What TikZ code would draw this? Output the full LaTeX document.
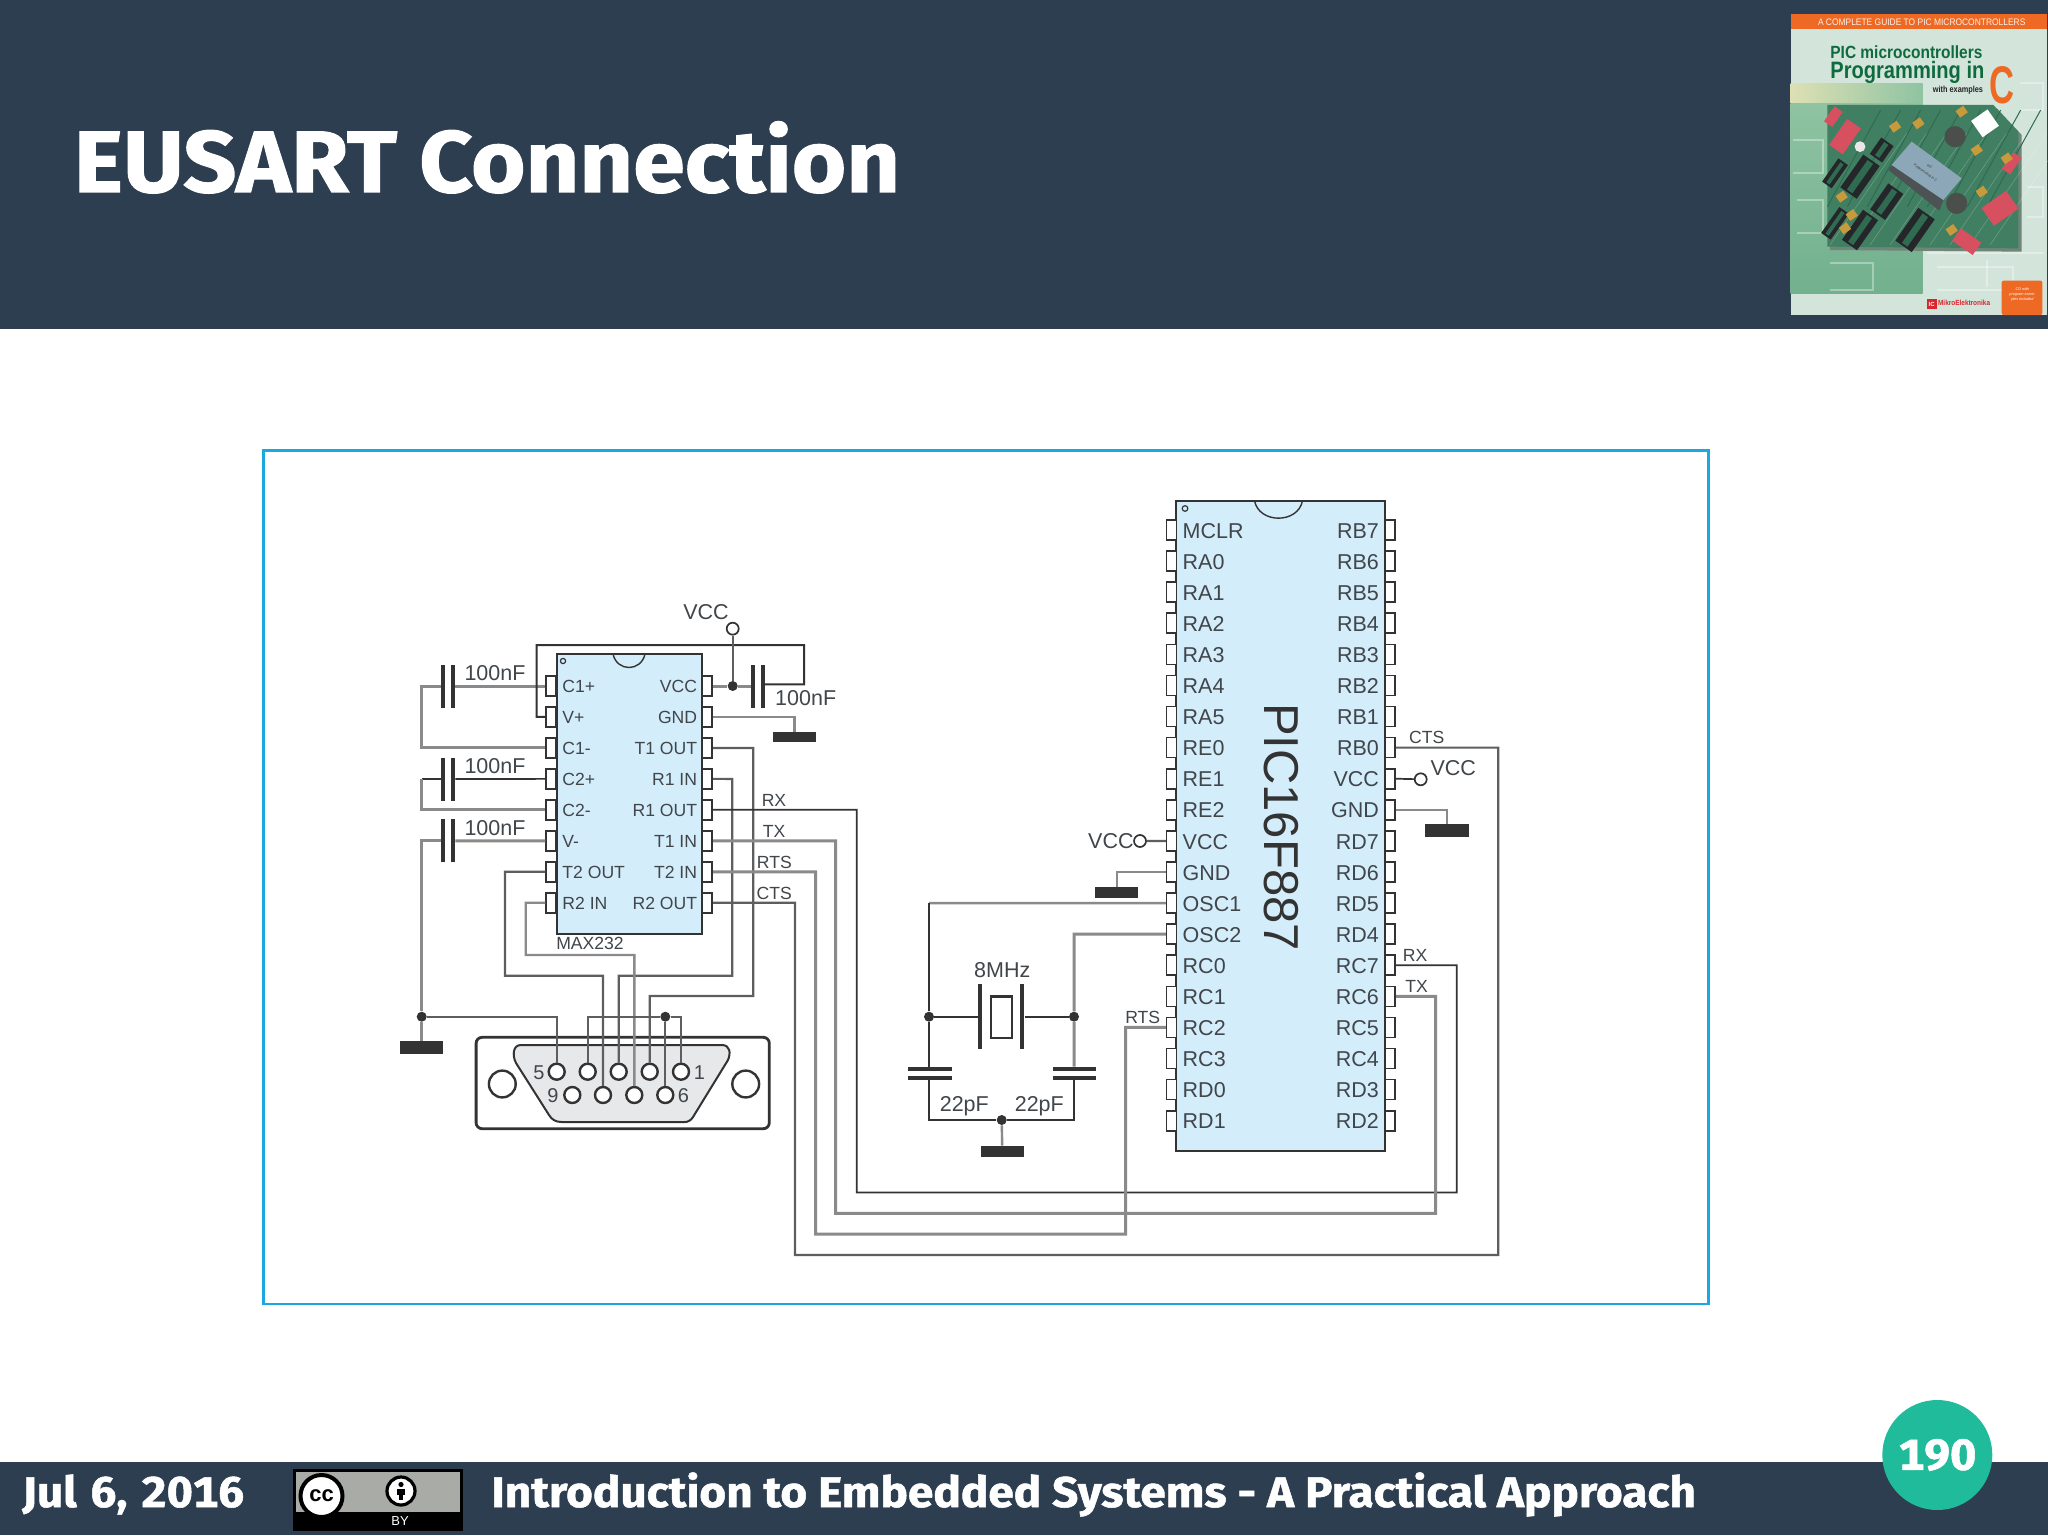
\documentclass[tikz,border=0pt]{standalone}
\usepackage{fontspec}
\usepackage{graphicx}
\setmainfont{Fira Sans}[FakeStretch=1.07,Numbers=Monospaced,BoldFeatures={FakeBold=1.2}]
\newfontfamily\arialf{Liberation Sans}
\usetikzlibrary{shapes.geometric}
\definecolor{hdr}{HTML}{2C3E50}
\definecolor{frm}{HTML}{1BA8E0}
\definecolor{teal1}{HTML}{1FBB9A}
\definecolor{icfill}{HTML}{D4EDFB}
\definecolor{ink}{HTML}{333333}
\definecolor{txt}{HTML}{41464B}
\definecolor{gw}{HTML}{8A8A8A}
\definecolor{mw}{HTML}{5E5E5E}
\definecolor{bko}{HTML}{EE6A24}
\definecolor{bkg}{HTML}{0E6B3E}
\definecolor{pcb}{HTML}{417F62}
\definecolor{pcbd}{HTML}{2F6B50}
\definecolor{ccg}{HTML}{A9ACA6}
\definecolor{bkbg}{HTML}{D3E4DB}
\definecolor{bky}{HTML}{DDE0B4}
\definecolor{bkma}{HTML}{8FC3A2}
\definecolor{bkmb}{HTML}{72B08E}
\definecolor{bksh}{HTML}{6F8578}
\definecolor{bkic}{HTML}{24262A}
\definecolor{bkred}{HTML}{D6505F}
\definecolor{bkyel}{HTML}{C99A3C}
\definecolor{bkw}{HTML}{E8E8E8}
\definecolor{bkknob}{HTML}{4A4F4C}
\definecolor{bklcda}{HTML}{4D5254}
\definecolor{bklcdb}{HTML}{8CA8B8}
\definecolor{dbfill}{HTML}{E7E8E9}
\definecolor{mered}{HTML}{D8262C}
\definecolor{dkt}{HTML}{242424}
\tikzset{
  x=0.5pt,y=-0.5pt,
  lab/.style={font=\arialf\fontsize{8.8}{10}\selectfont,text=txt,inner sep=0pt,text height=6.3pt,text depth=0pt},
  big/.style={font=\arialf\fontsize{10.75}{12}\selectfont,text=txt,inner sep=0pt,text height=7.7pt,text depth=0pt},
  icbody/.style={rectangle,draw=ink,fill=icfill,line width=1pt,inner sep=0pt},
  pinbox/.style={rectangle,draw=ink,fill=white,line width=0.85pt,inner sep=0pt,minimum width=5pt,minimum height=10pt},
  gwire/.style={draw=gw,line width=1.5pt},
  mwire/.style={draw=mw,line width=1.1pt},
  dwire/.style={draw=ink,line width=0.85pt},
  vplate/.style={rectangle,fill=ink,inner sep=0pt,minimum width=2pt,minimum height=21.5pt},
  hplate/.style={rectangle,fill=ink,inner sep=0pt,minimum width=21.7pt,minimum height=2pt},
  xplate/.style={rectangle,fill=ink,inner sep=0pt,minimum width=2pt,minimum height=32.5pt},
  gndbar/.style={rectangle,fill=ink,inner sep=0pt,minimum width=21.7pt,minimum height=5.2pt},
  jdot/.style={circle,fill=ink,inner sep=0pt,minimum size=5pt},
  term/.style={circle,draw=ink,fill=white,line width=0.85pt,inner sep=0pt,minimum size=6pt},
  dbpin/.style={circle,draw=ink,fill=white,line width=1.2pt,inner sep=0pt,minimum size=8pt},
  dbhole/.style={circle,draw=ink,fill=white,line width=1.2pt,inner sep=0pt,minimum size=13.4pt},
  foot/.style={font=\fontsize{21.45}{24}\selectfont\bfseries,text=white,inner sep=0pt,anchor=base west},
}
\newcommand{\fitbox}[3]{\resizebox{#1pt}{#2pt}{#3}}
\begin{document}
\begin{tikzpicture}
\useasboundingbox (0,0) rectangle (2048,1535);
\fill[white] (0,0) rectangle (2048,1535);
% header and footer
\fill[hdr] (0,0) rectangle (2048,329);
\fill[hdr] (0,1462) rectangle (2048,1535);
\node[font=\fontsize{43.6}{50}\selectfont\bfseries,text=white,inner sep=0pt,anchor=base west] (title) at (73.5,192) {EUSART Connection};
\node[foot] (date) at (22,1507) {Jul\hspace{1.5pt} 6,\hspace{1.5pt} 2016};
\node[foot] (course) at (491,1507) {Introduction to Embedded Systems - A Practical Approach};
\node[circle,fill=teal1,minimum size=55pt,inner sep=0pt,text=white,font=\fontsize{21.6}{24}\selectfont\bfseries] (pageno) at (1937.3,1455) {190};
% CC badge
\fill[black] (292.5,1469) rectangle (462.5,1531);
\fill[ccg] (296,1472) rectangle (460,1512);
\node[circle,draw=black,fill=white,line width=2pt,minimum size=21pt,inner sep=0pt,font=\arialf\fontsize{11}{12}\selectfont\bfseries,text=black] (ccicon) at (321.5,1496) {cc};
\node[circle,draw=black,fill=white,line width=1.6pt,minimum size=14pt,inner sep=0pt] (byicon) at (401,1491) {};
\fill[black] (401,1484.5) circle[radius=1.3pt];
\fill[black] (397,1488.5) rectangle (405,1495);
\fill[black] (398.7,1495) rectangle (403.3,1500);
\node[font=\arialf\fontsize{6.5}{7}\selectfont,text=white,inner sep=0pt] (bylabel) at (400,1521) {BY};
% book cover
\begin{scope}[shift={(1780,0)},x=0.166667pt,y=-0.166667pt]
\fill[bkbg] (32,42) rectangle (800,945);
\shade[left color=bky,right color=bkma] (32,250) rectangle (428,310);
\shade[top color=bkma,bottom color=bkmb] (32,310) rectangle (428,880);
\foreach \a/\b/\c/\d in {40/420/130/520,50/600/130/700,440/760/790/760,470/800/700/870,720/250/790/330,150/790/280/870,740/560/790/650,620/780/620/860}{
  \draw[white,opacity=.35,line width=1pt] (\a,\b) -- (\c,\b) -- (\c,\d) -- (\a,\d);
}
\fill[bksh] (150,325) -- (650,325) -- (725,405) -- (725,755) -- (150,750) -- cycle;
\fill[pcb] (142,315) -- (640,315) -- (715,395) -- (715,745) -- (142,740) -- cycle;
\foreach \o in {0,60,...,480}{
  \draw[pcbd,line width=.5pt] (142+\o,620) -- (142+\o+160,330);
  \draw[white,opacity=.25,line width=.25pt] (150+\o,735) -- (150+\o+230,400);
}
% board parts
\foreach \x/\y/\w/\h/\r in {240/530/60/120/-35,320/605/55/95/-35,405/690/60/120/-35,240/690/55/110/-35,165/520/35/85/-35,305/450/45/60/-35,165/670/35/95/-35}{
  \fill[bkic,rotate around={\r:(\x,\y)}] (\x-\w/2,\y-\h/2) rectangle (\x+\w/2,\y+\h/2);
  \fill[pcbd,rotate around={\r:(\x,\y)}] (\x-\w/6,\y-\h/2+6) rectangle (\x+\w/6,\y+\h/2-6);
}
\foreach \x/\y/\w/\h/\r in {195/410/50/95/-35,660/625/90/65/35,560/725/75/45/-35,160/350/30/55/-35,695/490/30/60/-35}{
  \fill[bkred,rotate around={\r:(\x,\y)}] (\x-\w/2,\y-\h/2) rectangle (\x+\w/2,\y+\h/2);
}
\foreach \x/\y in {345/380,415/370,590/450,185/590,215/645,195/685,515/690,605/575,680/475,545/335}{
  \fill[bkyel,rotate around={35:(\x,\y)}] (\x-14,\y-12) rectangle (\x+14,\y+12);
}
\fill[white,rotate around={35:(615,370)}] (585,340) rectangle (645,400);
\fill[bkw] (240,440) circle[radius=2.7pt];
\fill[bkknob] (525,410) circle[radius=5.3pt];
\fill[bkknob] (530,610) circle[radius=5.3pt];
\fill[bklcda] (325,510) -- (335,495) -- (490,600) -- (478,632) -- cycle;
\fill[bklcdb] (335,495) -- (395,425) -- (545,535) -- (490,600) -- cycle;
\node[rotate=-35,font=\arialf\fontsize{1.7}{2.6}\selectfont,text=ink,inner sep=0pt,align=center] (lcd) at (442,510) {PIC\\[1pt]Programming in C};
% band and titles
\fill[bko] (32,42) rectangle (800,86);
\node[text=white!90!bko,inner sep=0pt] (bk1) at (425,66) {\fitbox{103.7}{3.3}{\arialf A COMPLETE GUIDE TO PIC MICROCONTROLLERS}};
\node[text=bkg,inner sep=0pt,anchor=west] (bk2) at (150,156) {\fitbox{76}{6.4}{\arialf\bfseries PIC microcontrollers}};
\node[text=bkg,inner sep=0pt,anchor=west] (bk3) at (150,217) {\fitbox{77}{8.6}{\arialf\bfseries Programming in}};
\node[text=dkt,inner sep=0pt,anchor=east] (bk4) at (610,272) {\fitbox{25}{3.2}{\arialf\bfseries with examples}};
\node[text=bko,inner sep=0pt] (bk5) at (667,255) {\fitbox{12.5}{18.5}{\arialf\bfseries C}};
\fill[bko,rounded corners=1pt] (665,842) -- (787,842) -- (787,945) -- (665,945) -- cycle;
\node[text=white,font=\arialf\itshape\fontsize{1.9}{2.6}\selectfont,align=center,inner sep=0pt] (bk6) at (727,883) {CD with\\program exam-\\ples included};
\fill[mered] (440,897) rectangle (470,927);
\node[text=white,font=\arialf\bfseries\fontsize{3}{3}\selectfont,inner sep=0pt] (bk7) at (455,912) {IC};
\node[text=mered,inner sep=0pt,anchor=west] (bk8) at (473,909) {\fitbox{26}{2.7}{\arialf\bfseries MikroElektronika}};
\end{scope}
% frame
\draw[frm,line width=1.4pt] (263.3,450.7) rectangle (1708.5,1304);
% ---------- MAX232
\node[icbody,minimum width=72.5pt,minimum height=140pt] (max) at (629.2,794) {};
\draw[ink,line width=0.7pt] (613,654) .. controls (617,672) and (641,672) .. (645,654);
\node[circle,draw=ink,line width=.6pt,minimum size=2.6pt,inner sep=0pt] (maxdot) at (563,661) {};
\foreach \n [count=\i from 0] in {C1+,V+,C1-,C2+,C2-,V-,T2 OUT,R2 IN}{
  \pgfmathsetmacro\yy{686+30.96*\i}
  \node[pinbox] (ML\i) at (551.2,\yy) {};
  \node[lab,anchor=west] (MLT\i) at (562,\yy) {\n};
}
\foreach \n [count=\i from 0] in {VCC,GND,T1 OUT,R1 IN,R1 OUT,T1 IN,T2 IN,R2 OUT}{
  \pgfmathsetmacro\yy{686+30.96*\i}
  \node[pinbox] (MR\i) at (707.2,\yy) {};
  \node[lab,anchor=east] (MRT\i) at (697.5,\yy) {\n};
}
\node[lab] (maxname) at (590,943.5) {MAX232};
% ---------- PIC
\node[icbody,minimum width=104.5pt,minimum height=325pt] (pic) at (1280.5,825.8) {};
\draw[ink,line width=0.7pt] (1254.5,500.7) .. controls (1259,524) and (1298,524) .. (1302.5,500.7);
\node[circle,draw=ink,line width=.6pt,minimum size=2.8pt,inner sep=0pt] (picdot) at (1185,508.5) {};
\foreach \n [count=\i from 0] in {MCLR,RA0,RA1,RA2,RA3,RA4,RA5,RE0,RE1,RE2,VCC,GND,OSC1,OSC2,RC0,RC1,RC2,RC3,RD0,RD1}{
  \pgfmathsetmacro\yy{530+31.09*\i}
  \node[pinbox] (PL\i) at (1171.6,\yy) {};
  \node[big,anchor=west] (PLT\i) at (1182.3,\yy+0.4) {\n};
}
\foreach \n [count=\i from 0] in {RB7,RB6,RB5,RB4,RB3,RB2,RB1,RB0,VCC,GND,RD7,RD6,RD5,RD4,RC7,RC6,RC5,RC4,RD3,RD2}{
  \pgfmathsetmacro\yy{530+31.09*\i}
  \node[pinbox] (PR\i) at (1390.3,\yy) {};
  \node[big,anchor=east] (PRT\i) at (1379.3,\yy+0.4) {\n};
}
\node[rotate=-90,font=\arialf\fontsize{24.5}{26}\selectfont,text=ink,inner sep=0pt] (picname) at (1281.7,827) {PIC16F887};
% ---------- DB9
\node[rectangle,rounded corners=3pt,draw=ink,fill=white,line width=1.4pt,minimum width=146.6pt,minimum height=45.7pt,inner sep=0pt] (db9) at (622.7,1083) {};
\fill[dbfill,draw=ink,line width=1pt] (521,1045) -- (722,1045) .. controls (730,1045) and (731,1053) .. (728,1060) -- (693,1117) .. controls (689,1123) and (685,1122) .. (681,1122) -- (562,1122) .. controls (556,1122) and (552,1120) .. (549,1115) -- (516,1063) .. controls (512,1055) and (513,1045) .. (521,1045) -- cycle;
\node[dbhole] (holeL) at (502.3,1084) {};
\node[dbhole] (holeR) at (745.7,1084) {};
\foreach \n/\x in {5/556.7,4/587.7,3/618.7,2/649.7,1/681}{
  \node[dbpin] (T\n) at (\x,1071.7) {};
}
\foreach \n/\x in {9/572.3,8/603,7/634.3,6/665.3}{
  \node[dbpin] (T\n) at (\x,1095) {};
}
\node[big,font=\arialf\fontsize{10}{12}\selectfont] (n5) at (539,1072) {5};
\node[big,font=\arialf\fontsize{10}{12}\selectfont] (n1) at (699.5,1072) {1};
\node[big,font=\arialf\fontsize{10}{12}\selectfont] (n9) at (553,1095) {9};
\node[big,font=\arialf\fontsize{10}{12}\selectfont] (n6) at (683.5,1095) {6};
% ---------- parts around MAX232
\node[vplate] (c1a) at (443.3,686) {};
\node[vplate] (c1b) at (453,686) {};
\node[vplate] (c2a) at (443.3,779) {};
\node[vplate] (c2b) at (453,779) {};
\node[vplate] (c3a) at (443.3,840.8) {};
\node[vplate] (c3b) at (453,840.8) {};
\node[vplate] (c4a) at (753.3,686) {};
\node[vplate] (c4b) at (763,686) {};
\node[big] (l100a) at (495,673) {100nF};
\node[big] (l100b) at (495,766) {100nF};
\node[big] (l100c) at (495,828) {100nF};
\node[big] (l100d) at (805.7,698) {100nF};
\node[gndbar] (g1) at (794.3,737.2) {};
\node[gndbar,minimum height=6.4pt] (g2) at (421.7,1047.5) {};
\node[jdot] (j1) at (732.7,686) {};
\node[jdot] (j2) at (421.7,1016.7) {};
\node[jdot] (j3) at (665.3,1016.7) {};
\node[term] (v1) at (732.7,628.7) {};
\node[big] (lv1) at (706,611.7) {VCC};
\draw[gwire] (ML0.west) -- (c1b);
\draw[gwire] (c1a) -- (421.7,686) |- (ML2.west);
\draw[dwire] (ML3.west) -- (c2b);
\draw[dwire] (c2a) -- (421.7,779);
\draw[gwire] (421.7,779) |- (ML4.west);
\draw[gwire] (ML5.west) -- (c3b);
\draw[gwire] (c3a) -- (421.7,840.8) -- (j2);
\draw[gwire] (j2) -- (g2);
\draw[mwire] (j2) -| (T5.north);
\draw[dwire,line width=1pt] (ML1.west) -- (536.7,716.9) -- (536.7,645) -- (804,645) -- (804,684.3) -- (763,684.3);
\draw[gwire] (MR0.east) -- (j1) -- (c4a);
\draw[mwire] (v1) -- (j1);
\draw[gwire,line width=1.2pt] (MR1.east) -| (g1.north);
\draw[mwire] (MR2.east) -- (753.3,747.9) -- (753.3,996) -- (649.7,996) -- (T2.north);
\draw[mwire] (MR3.east) -- (732.3,778.9) -- (732.3,975.7) -- (618.7,975.7) -- (T3.north);
\draw[mwire] (ML6.west) -- (505,871.8) -- (505,975.7) -- (603,975.7) -- (T8.north);
\draw[gwire,line width=1.2pt] (ML7.west) -- (525.7,902.7) -- (525.7,955) -- (634.3,955) -- (T7.north);
\draw[mwire] (T4.north) |- (j3);
\draw[mwire] (j3) -| (T1.north);
\draw[mwire] (j3) -- (T6.north);
% long wires
\draw[dwire] (MR4.east) -- (856.7,809.8) -- (856.7,1192.5) -- (1456.7,1192.5) |- (PR14.east);
\draw[gwire] (MR5.east) -- (835.7,840.8) -- (835.7,1213.3) -- (1435.7,1213.3) |- (PR15.east);
\draw[gwire] (MR6.east) -- (815.7,871.8) -- (815.7,1234) -- (1125.7,1234) |- (PL16.west);
\draw[mwire] (MR7.east) -- (795,902.7) -- (795,1255) -- (1498.3,1255) |- (PR7.east);
\node[lab] (lrx) at (774,800) {RX};
\node[lab] (ltx) at (774,830.7) {TX};
\node[lab] (lrts) at (774.3,861.7) {RTS};
\node[lab] (lcts) at (774.3,892.7) {CTS};
\node[lab] (lrts2) at (1142.7,1016.7) {RTS};
\node[lab] (lcts2) at (1426.7,737.3) {CTS};
\node[lab] (lrx2) at (1415,955) {RX};
\node[lab] (ltx2) at (1416.7,986) {TX};
% ---------- parts around PIC
\node[term] (v2) at (1140,841) {};
\node[big,anchor=east] (lv2) at (1134,841) {VCC};
\draw[mwire] (PL10.west) -- (v2);
\node[term] (v3) at (1420.7,779.3) {};
\node[big] (lv3) at (1453.3,767.7) {VCC};
\draw[dwire] (PR8.east) -- (v3);
\node[gndbar] (g3) at (1116.7,892.5) {};
\draw[gwire,line width=1.2pt] (PL11.west) -| (g3.north);
\node[gndbar,minimum height=6.4pt] (g4) at (1447,830.4) {};
\draw[gwire,line width=1.2pt] (PR9.east) -| (g4.north);
\node[jdot] (j4) at (929,1016.7) {};
\node[jdot] (j5) at (1074,1016.7) {};
\node[jdot] (j6) at (1001.7,1120) {};
\node[hplate] (c5a) at (930,1069) {};
\node[hplate] (c5b) at (930,1077.7) {};
\node[hplate] (c6a) at (1074.3,1069) {};
\node[hplate] (c6b) at (1074.3,1077.7) {};
\node[xplate] (x1) at (980,1016.7) {};
\node[xplate] (x2) at (1022.3,1016.7) {};
\node[rectangle,draw=ink,fill=white,line width=1.2pt,minimum width=10.5pt,minimum height=20.8pt,inner sep=0pt] (x3) at (1001.3,1017.3) {};
\node[gndbar] (g5) at (1002.3,1151.3) {};
\node[big] (l8m) at (1002.3,969.3) {8MHz};
\node[big] (l22a) at (964.3,1103.3) {22pF};
\node[big] (l22b) at (1039.3,1103.3) {22pF};
\draw[gwire,line width=1.2pt] (PL12.west) -- (929,903.1);
\draw[dwire,line width=1pt] (929,903.1) -- (j4) -- (c5a.north -| j4);
\draw[gwire] (PL13.west) -- (1074,934.2) -- (j5) -- (c6a.north -| j5);
\draw[dwire] (j4) -- (x1);
\draw[dwire] (x2) -- (j5);
\draw[dwire,line width=1pt] (c5b.south -| j4) |- (j6);
\draw[dwire,line width=1pt] (j6) -| (c6b.south -| j5);
\draw[gwire,line width=1.2pt] (j6) -- (g5);
\end{tikzpicture}
\end{document}
